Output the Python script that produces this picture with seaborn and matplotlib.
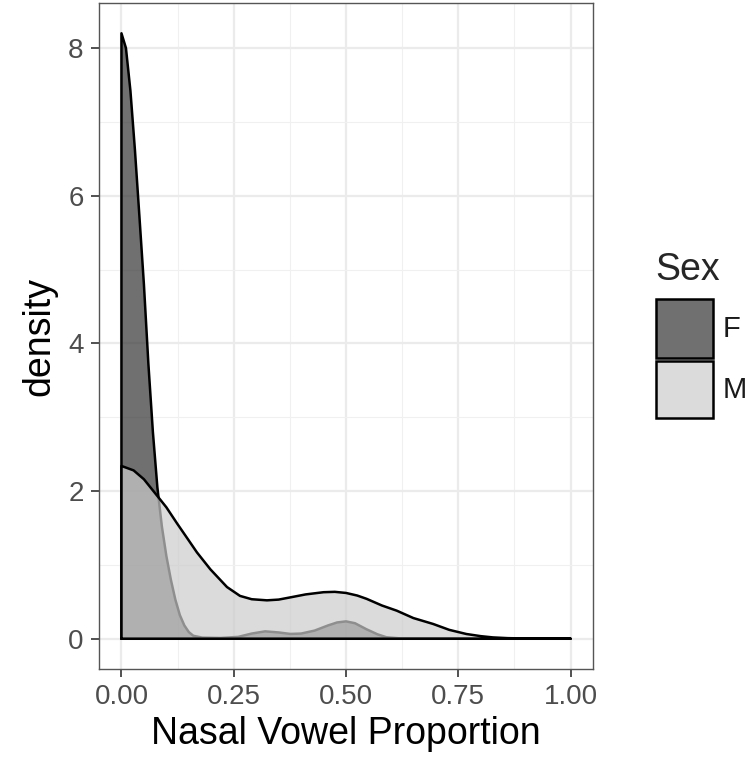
import matplotlib
matplotlib.use("Agg")
import matplotlib.pyplot as plt
from matplotlib.patches import Rectangle
import pandas as pd
import seaborn as sns

# Density curves of nasal vowel proportion, by speaker sex
f_x = [0.00, 0.01, 0.02, 0.03, 0.04, 0.05, 0.06, 0.07, 0.08, 0.09, 0.10, 0.11,
       0.12, 0.13, 0.14, 0.15, 0.16, 0.18, 0.22, 0.26, 0.29, 0.32, 0.35, 0.376,
       0.40, 0.43, 0.46, 0.48, 0.50, 0.52, 0.545, 0.57, 0.59, 0.62, 0.70, 0.85, 1.00]
f_density = [8.20, 8.00, 7.42, 6.62, 5.72, 4.80, 3.72, 2.80, 2.05, 1.52, 1.12, 0.80,
             0.53, 0.32, 0.18, 0.09, 0.04, 0.015, 0.01, 0.025, 0.07, 0.10, 0.085, 0.065,
             0.07, 0.11, 0.18, 0.22, 0.235, 0.21, 0.13, 0.06, 0.02, 0.005, 0.0, 0.0, 0.0]

m_x = [0.00, 0.027, 0.05, 0.079, 0.10, 0.124, 0.15, 0.168, 0.198, 0.235, 0.264,
       0.29, 0.324, 0.35, 0.376, 0.41, 0.45, 0.475, 0.50, 0.525, 0.546, 0.58,
       0.613, 0.65, 0.694, 0.73, 0.768, 0.80, 0.827, 0.86, 0.90, 0.95, 1.00]
m_density = [2.34, 2.28, 2.16, 1.94, 1.78, 1.56, 1.33, 1.17, 0.94, 0.70, 0.58,
             0.535, 0.52, 0.53, 0.56, 0.60, 0.63, 0.635, 0.62, 0.585, 0.54, 0.45,
             0.38, 0.28, 0.20, 0.12, 0.064, 0.035, 0.018, 0.008, 0.003, 0.001, 0.0]

groups = ["F", "M"]
base_colors = {"F": "#333333", "M": "#CCCCCC"}
fill_alpha = 0.7

x_ticks = [0.0, 0.25, 0.5, 0.75, 1.0]
x_tick_labels = ["0.00", "0.25", "0.50", "0.75", "1.00"]
y_ticks = [0, 2, 4, 6, 8]

sns.set_theme(style="white")
plt.rcParams["font.family"] = ["Liberation Sans", "DejaVu Sans"]

W, H = 750, 763
fig = plt.figure(figsize=(W / 100, H / 100), dpi=100)
ax = fig.add_axes([99 / W, 1 - 669 / H, (593 - 99) / W, (669 - 3) / H])

curves = {"F": (f_x, f_density), "M": (m_x, m_density)}

ax.set_xlim(-0.05, 1.05)
ax.set_ylim(-0.41, 8.61)

# grid (major + minor), drawn beneath the densities
ax.set_xticks(x_ticks)
ax.set_xticklabels(x_tick_labels)
ax.set_yticks(y_ticks)
ax.set_xticks([0.125, 0.375, 0.625, 0.875], minor=True)
ax.set_yticks([1, 3, 5, 7], minor=True)
ax.grid(which="major", color="#EBEBEB", linewidth=1.6)
ax.grid(which="minor", color="#F0F0F0", linewidth=0.8)
ax.set_axisbelow(True)

for g in groups:
    xs, ys = curves[g]
    ax.fill_between(xs, ys, 0, facecolor=base_colors[g], alpha=fill_alpha,
                    edgecolor="none", zorder=2 + groups.index(g))
    outline = pd.DataFrame({
        "x": [xs[0]] + list(xs) + [xs[-1], xs[0]],
        "y": [0.0] + list(ys) + [0.0, 0.0],
    })
    sns.lineplot(data=outline, x="x", y="y", sort=False, estimator=None,
                 color="black", linewidth=1.8, ax=ax,
                 zorder=2.5 + groups.index(g), solid_joinstyle="round")

for spine in ax.spines.values():
    spine.set_visible(True)
    spine.set_color("#555555")
    spine.set_linewidth(1.0)

ax.tick_params(which="major", direction="out", length=6, width=1.2,
               color="#333333", labelsize=20, labelcolor="#4D4D4D",
               bottom=True, left=True)
ax.tick_params(axis="x", which="major", pad=5)
ax.tick_params(axis="y", which="major", pad=5)
ax.tick_params(which="minor", length=0)

ax.set_xlabel("Nasal Vowel Proportion", fontsize=27, color="black", labelpad=4)
ax.set_ylabel("density", fontsize=27, color="black", labelpad=8)

# legend: title plus stacked key boxes
def fx(px):
    return px / W

def fy(py):
    return 1 - py / H

fig.text(fx(655), fy(270), "Sex", fontsize=27, ha="left", va="center")
key_rows = [("F", 299, 358), ("M", 361, 418)]
for g, top, bottom in key_rows:
    fig.add_artist(Rectangle((fx(656), fy(bottom)), fx(713) - fx(656),
                             fy(top) - fy(bottom), transform=fig.transFigure,
                             facecolor=base_colors[g], alpha=fill_alpha,
                             edgecolor="none"))
    fig.add_artist(Rectangle((fx(656), fy(bottom)), fx(713) - fx(656),
                             fy(top) - fy(bottom), transform=fig.transFigure,
                             facecolor="none", edgecolor="black", linewidth=1.8))
    fig.text(fx(723), fy((top + bottom) / 2), g, fontsize=21, color="#1A1A1A",
             ha="left", va="center")

fig.savefig("out.png", dpi=100)
